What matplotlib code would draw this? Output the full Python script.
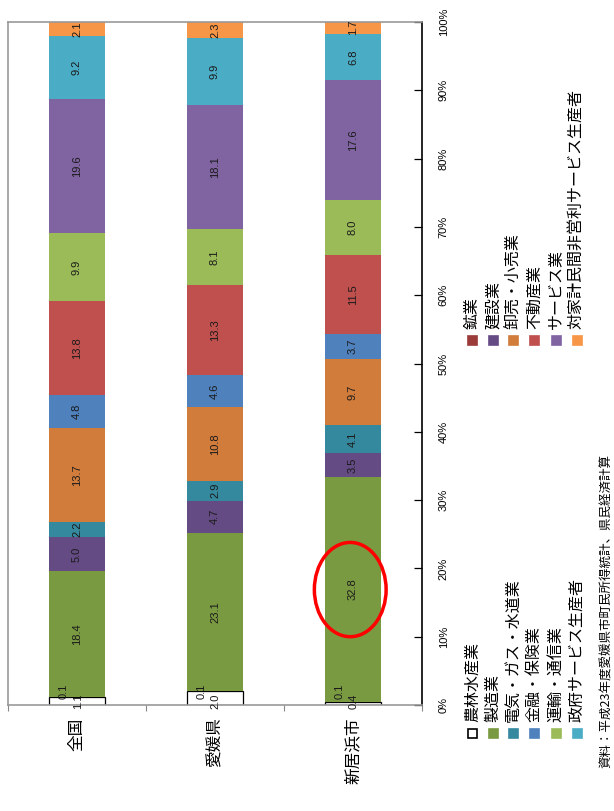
import numpy as np
import matplotlib
matplotlib.use("Agg")
import matplotlib.pyplot as plt
from matplotlib.patches import Rectangle, Ellipse
from matplotlib.ticker import FixedLocator, FuncFormatter

plt.rcParams['font.family'] = ['Noto Sans CJK JP', 'DejaVu Sans']

# data (% of total)
areas = ['全国', '愛媛県', '新居浜市']
sectors = ['農林水産業', '鉱業', '製造業', '建設業', '電気・ガス・水道業', '卸売・小売業',
           '金融・保険業', '不動産業', '運輸・通信業', 'サービス業',
           '政府サービス生産者', '対家計民間非営利サービス生産者']
zenkoku = [1.1, 0.1, 18.4, 5.0, 2.2, 13.7, 4.8, 13.8, 9.9, 19.6, 9.2, 2.1]
ehime = [2.0, 0.1, 23.1, 4.7, 2.9, 10.8, 4.6, 13.3, 8.1, 18.1, 9.9, 2.3]
niihama = [0.4, 0.1, 32.8, 3.5, 4.1, 9.7, 3.7, 11.5, 8.0, 17.6, 6.8, 1.7]
y_ticks = [0, 10, 20, 30, 40, 50, 60, 70, 80, 90, 100]
source_note = '資料：平成23年度愛媛県市町民所得統計、県民経済計算'

colors = ['#FFFFFF', '#9B3B3A', '#7A9A42', '#654B84', '#35899E', '#D27C3C',
          '#4F81BD', '#C0504D', '#9BBB59', '#8064A2', '#4BACC6', '#F79646']

W, H = 614, 811
fig = plt.figure(figsize=(W / 100, H / 100), dpi=100)


def fx(px):
    return px / W


def fy(py):
    return 1 - py / H


ax = fig.add_axes([fx(8), fy(705), (422 - 8) / W, (705 - 22) / H])

data = np.array([zenkoku, ehime, niihama])
data = data / data.sum(axis=1, keepdims=True) * 100
x = np.arange(len(areas))
bottom = np.zeros(len(areas))
for j in range(len(sectors)):
    ec = 'black' if j == 0 else 'none'
    ax.bar(x, data[:, j], bottom=bottom, width=0.4, color=colors[j],
           edgecolor=ec, linewidth=0.9 if j == 0 else 0)
    raw = np.array([zenkoku[j], ehime[j], niihama[j]])
    for i in range(len(areas)):
        if j == 0:
            tx, ty = x[i] + 0.005, 0.6
        elif j == 1:
            tx, ty = x[i] - 0.1, 2.0
        else:
            tx, ty = x[i], bottom[i] + data[i, j] / 2
        ax.text(tx, ty, '%.1f' % raw[i], rotation=90, ha='center', va='center',
                fontsize=8, family='Liberation Sans', color='#1a1a1a')
    bottom += data[:, j]

ax.add_patch(Ellipse((1.98, 16.9), 0.52, 13.8, facecolor='none',
                     edgecolor='#FF0000', linewidth=2.5, zorder=5))

ax.set_xlim(-0.5, 2.5)
ax.set_ylim(0, 100)

ax.set_xticks(x)
ax.set_xticklabels(areas, rotation=90, fontsize=12, va='top')
ax.xaxis.set_minor_locator(FixedLocator([-0.5, 0.5, 1.5, 2.5]))
ax.tick_params(axis='x', which='major', length=0, pad=9)
ax.tick_params(axis='x', which='minor', length=4, color='#888888', width=0.8)

ax.yaxis.tick_right()
ax.set_yticks(y_ticks)
ax.yaxis.set_major_formatter(FuncFormatter(lambda v, p: '%d%%' % v))
ax.tick_params(axis='y', direction='in', length=6, width=0.9, pad=12, labelsize=8)
for lb in ax.get_yticklabels():
    lb.set_rotation(90)
    lb.set_family('Liberation Sans')
    lb.set_va('center')

for s in ['left', 'top', 'bottom']:
    ax.spines[s].set_color('#999999')
    ax.spines[s].set_linewidth(1.2)
ax.spines['right'].set_color('black')
ax.spines['right'].set_linewidth(1.2)

# legend drawn by hand (the whole chart is turned on its side)
leg_x = [472, 493, 513, 534, 556, 577]
groups = [(sectors[0::2], colors[0::2], 733), (sectors[1::2], colors[1::2], 340)]
for names, cols, sq_y in groups:
    for k in range(len(names)):
        ec = 'black' if cols[k] == '#FFFFFF' else cols[k]
        fig.add_artist(Rectangle((fx(leg_x[k] - 4.5), fy(sq_y + 4.5)), 9 / W, 9 / H,
                                 transform=fig.transFigure, facecolor=cols[k],
                                 edgecolor=ec, linewidth=1.2))
        fig.text(fx(leg_x[k]), fy(sq_y - 11), names[k], rotation=90,
                 ha='center', va='bottom', fontsize=11.5)

fig.text(fx(607), fy(768), source_note, rotation=90, ha='center', va='bottom', fontsize=9)

fig.savefig('out.png', dpi=100)
